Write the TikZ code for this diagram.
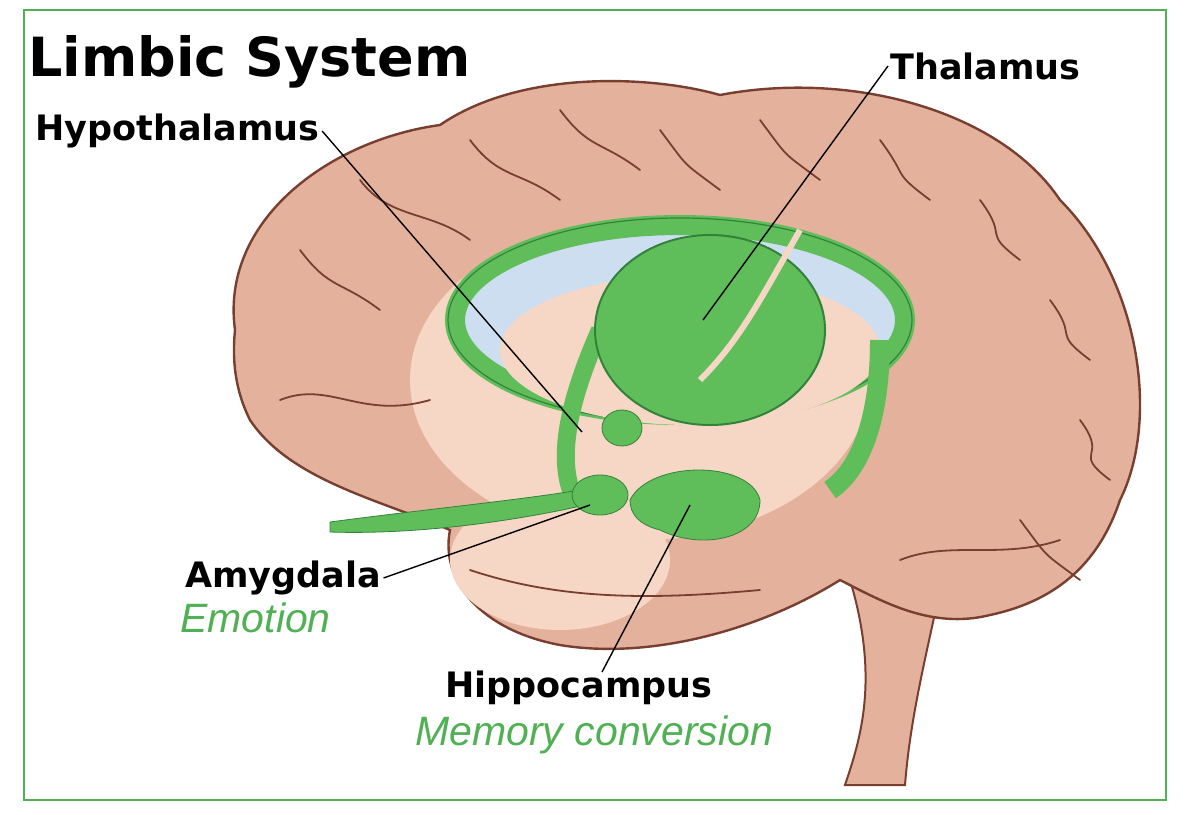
\documentclass[tikz,border=0pt]{standalone}
\usepackage{fontspec}
\setmainfont{Liberation Sans}
\newfontfamily\labelfont{DejaVu Sans}
\definecolor{framegreen}{RGB}{80,176,84}
\definecolor{brainskin}{RGB}{228,178,156}
\definecolor{brainlight}{RGB}{246,214,196}
\definecolor{brainline}{RGB}{120,62,48}
\definecolor{limbic}{RGB}{96,190,90}
\definecolor{limbicdark}{RGB}{50,130,60}
\definecolor{ventricle}{RGB}{205,222,240}
\tikzset{
  label/.style={font=\labelfont\bfseries\fontsize{17.5}{20}\selectfont, inner sep=1pt},
  role/.style={font=\itshape\fontsize{20.5}{23}\selectfont, text=framegreen, inner sep=1pt},
  leader/.style={draw=black, line width=0.7pt},
  gyrus/.style={draw=brainline, line width=0.9pt, line cap=round},
}
\begin{document}
\begin{tikzpicture}[x=0.5pt,y=-0.5pt]
  \useasboundingbox (0,0) rectangle (1186,814);
  \draw[framegreen, line width=0.8pt] (24,10) rectangle (1166,800);

  % brainstem
  \draw[brainline, fill=brainskin, line width=1pt]
    (850,580) .. controls (880,680) and (860,740) .. (845,785)
    -- (905,785) .. controls (910,720) and (925,660) .. (940,590) -- cycle;

  % cerebrum
  \draw[brainline, fill=brainskin, line width=1.2pt]
    (235,330) .. controls (220,220) and (330,140) .. (440,125)
    .. controls (520,70) and (650,75) .. (720,95)
    .. controls (850,70) and (1000,110) .. (1060,200)
    .. controls (1140,280) and (1160,420) .. (1120,500)
    .. controls (1100,560) and (1060,600) .. (990,615)
    .. controls (930,630) and (880,600) .. (840,580)
    .. controls (760,630) and (650,660) .. (560,645)
    .. controls (480,630) and (440,580) .. (450,530)
    .. controls (380,500) and (290,480) .. (250,420)
    .. controls (235,390) and (232,360) .. (235,330) -- cycle;

  % medial surface
  \fill[brainlight] (640,380) ellipse (230 and 160);
  \fill[brainlight] (560,560) ellipse (110 and 70);

  % gyri
  \foreach \a/\b/\c in {300/250/380, 360/180/470, 470/140/560, 560/110/640,
                        660/130/720, 760/120/820, 880/140/930, 980/200/1020,
                        1050/300/1090, 1080/420/1110, 1020/520/1080}
    \draw[gyrus] (\a,\b) .. controls (\a+30,\b+40) and (\c-40,\b+30) .. (\c,\b+60);
  \draw[gyrus] (280,400) .. controls (330,380) and (360,420) .. (430,400);
  \draw[gyrus] (470,570) .. controls (560,600) and (650,600) .. (760,590);
  \draw[gyrus] (900,560) .. controls (950,540) and (1000,560) .. (1060,540);

  % fornix ring with ventricle
  \draw[limbic, fill=ventricle, line width=10pt] (680,320) ellipse (225 and 95);
  \draw[limbicdark, line width=0.6pt] (680,320) ellipse (232 and 102);
  \fill[brainlight] (690,350) ellipse (190 and 75);
  \draw[limbic, line width=10pt]
    (880,340) .. controls (880,420) and (860,470) .. (830,490);
  \draw[limbic, line width=9pt]
    (600,330) .. controls (560,420) and (560,470) .. (575,500);

  % thalamus
  \draw[limbicdark, fill=limbic, line width=1pt] (710,330) ellipse (115 and 95);
  \draw[brainlight, line width=3pt] (800,230) .. controls (760,300) and (740,340) .. (700,380);

  % hypothalamus
  \draw[limbicdark, fill=limbic] (622,428) ellipse (20 and 18);

  % olfactory tract, amygdala, hippocampus
  \draw[limbicdark, fill=limbic] (330,522) .. controls (420,510) and (520,500) .. (580,490)
    -- (585,505) .. controls (520,520) and (420,535) .. (330,532) -- cycle;
  \draw[limbicdark, fill=limbic] (600,495) ellipse (28 and 20);
  \draw[limbicdark, fill=limbic] (630,500) .. controls (650,460) and (750,460) .. (760,500)
    .. controls (760,540) and (700,550) .. (660,530) .. controls (640,525) and (630,515) .. (630,500) -- cycle;

  % labels
  \node[anchor=west, font=\labelfont\bfseries\fontsize{27}{30}\selectfont, inner sep=0pt] (title) at (28,62) {Limbic System};
  \node[label, anchor=west] (thal) at (888,66) {Thalamus};
  \node[label, anchor=west] (hypo) at (33,131) {Hypothalamus};
  \node[label, anchor=west] (amyg) at (183,578) {Amygdala};
  \node[role, anchor=west] (emot) at (178,618) {Emotion};
  \node[label, anchor=west] (hipp) at (443,688) {Hippocampus};
  \node[role, anchor=west] (memo) at (413,735) {Memory conversion};

  \coordinate (thalpt) at (703,320);
  \coordinate (hypopt) at (582,432);
  \coordinate (amygpt) at (590,505);
  \coordinate (hipppt) at (690,505);
  \coordinate (hippfoot) at (602,672);

  \draw[leader] (thal.west) -- (thalpt);
  \draw[leader] (hypo.east) -- (hypopt);
  \draw[leader] (amyg.east) -- (amygpt);
  \draw[leader] (hippfoot) -- (hipppt);
\end{tikzpicture}
\end{document}
